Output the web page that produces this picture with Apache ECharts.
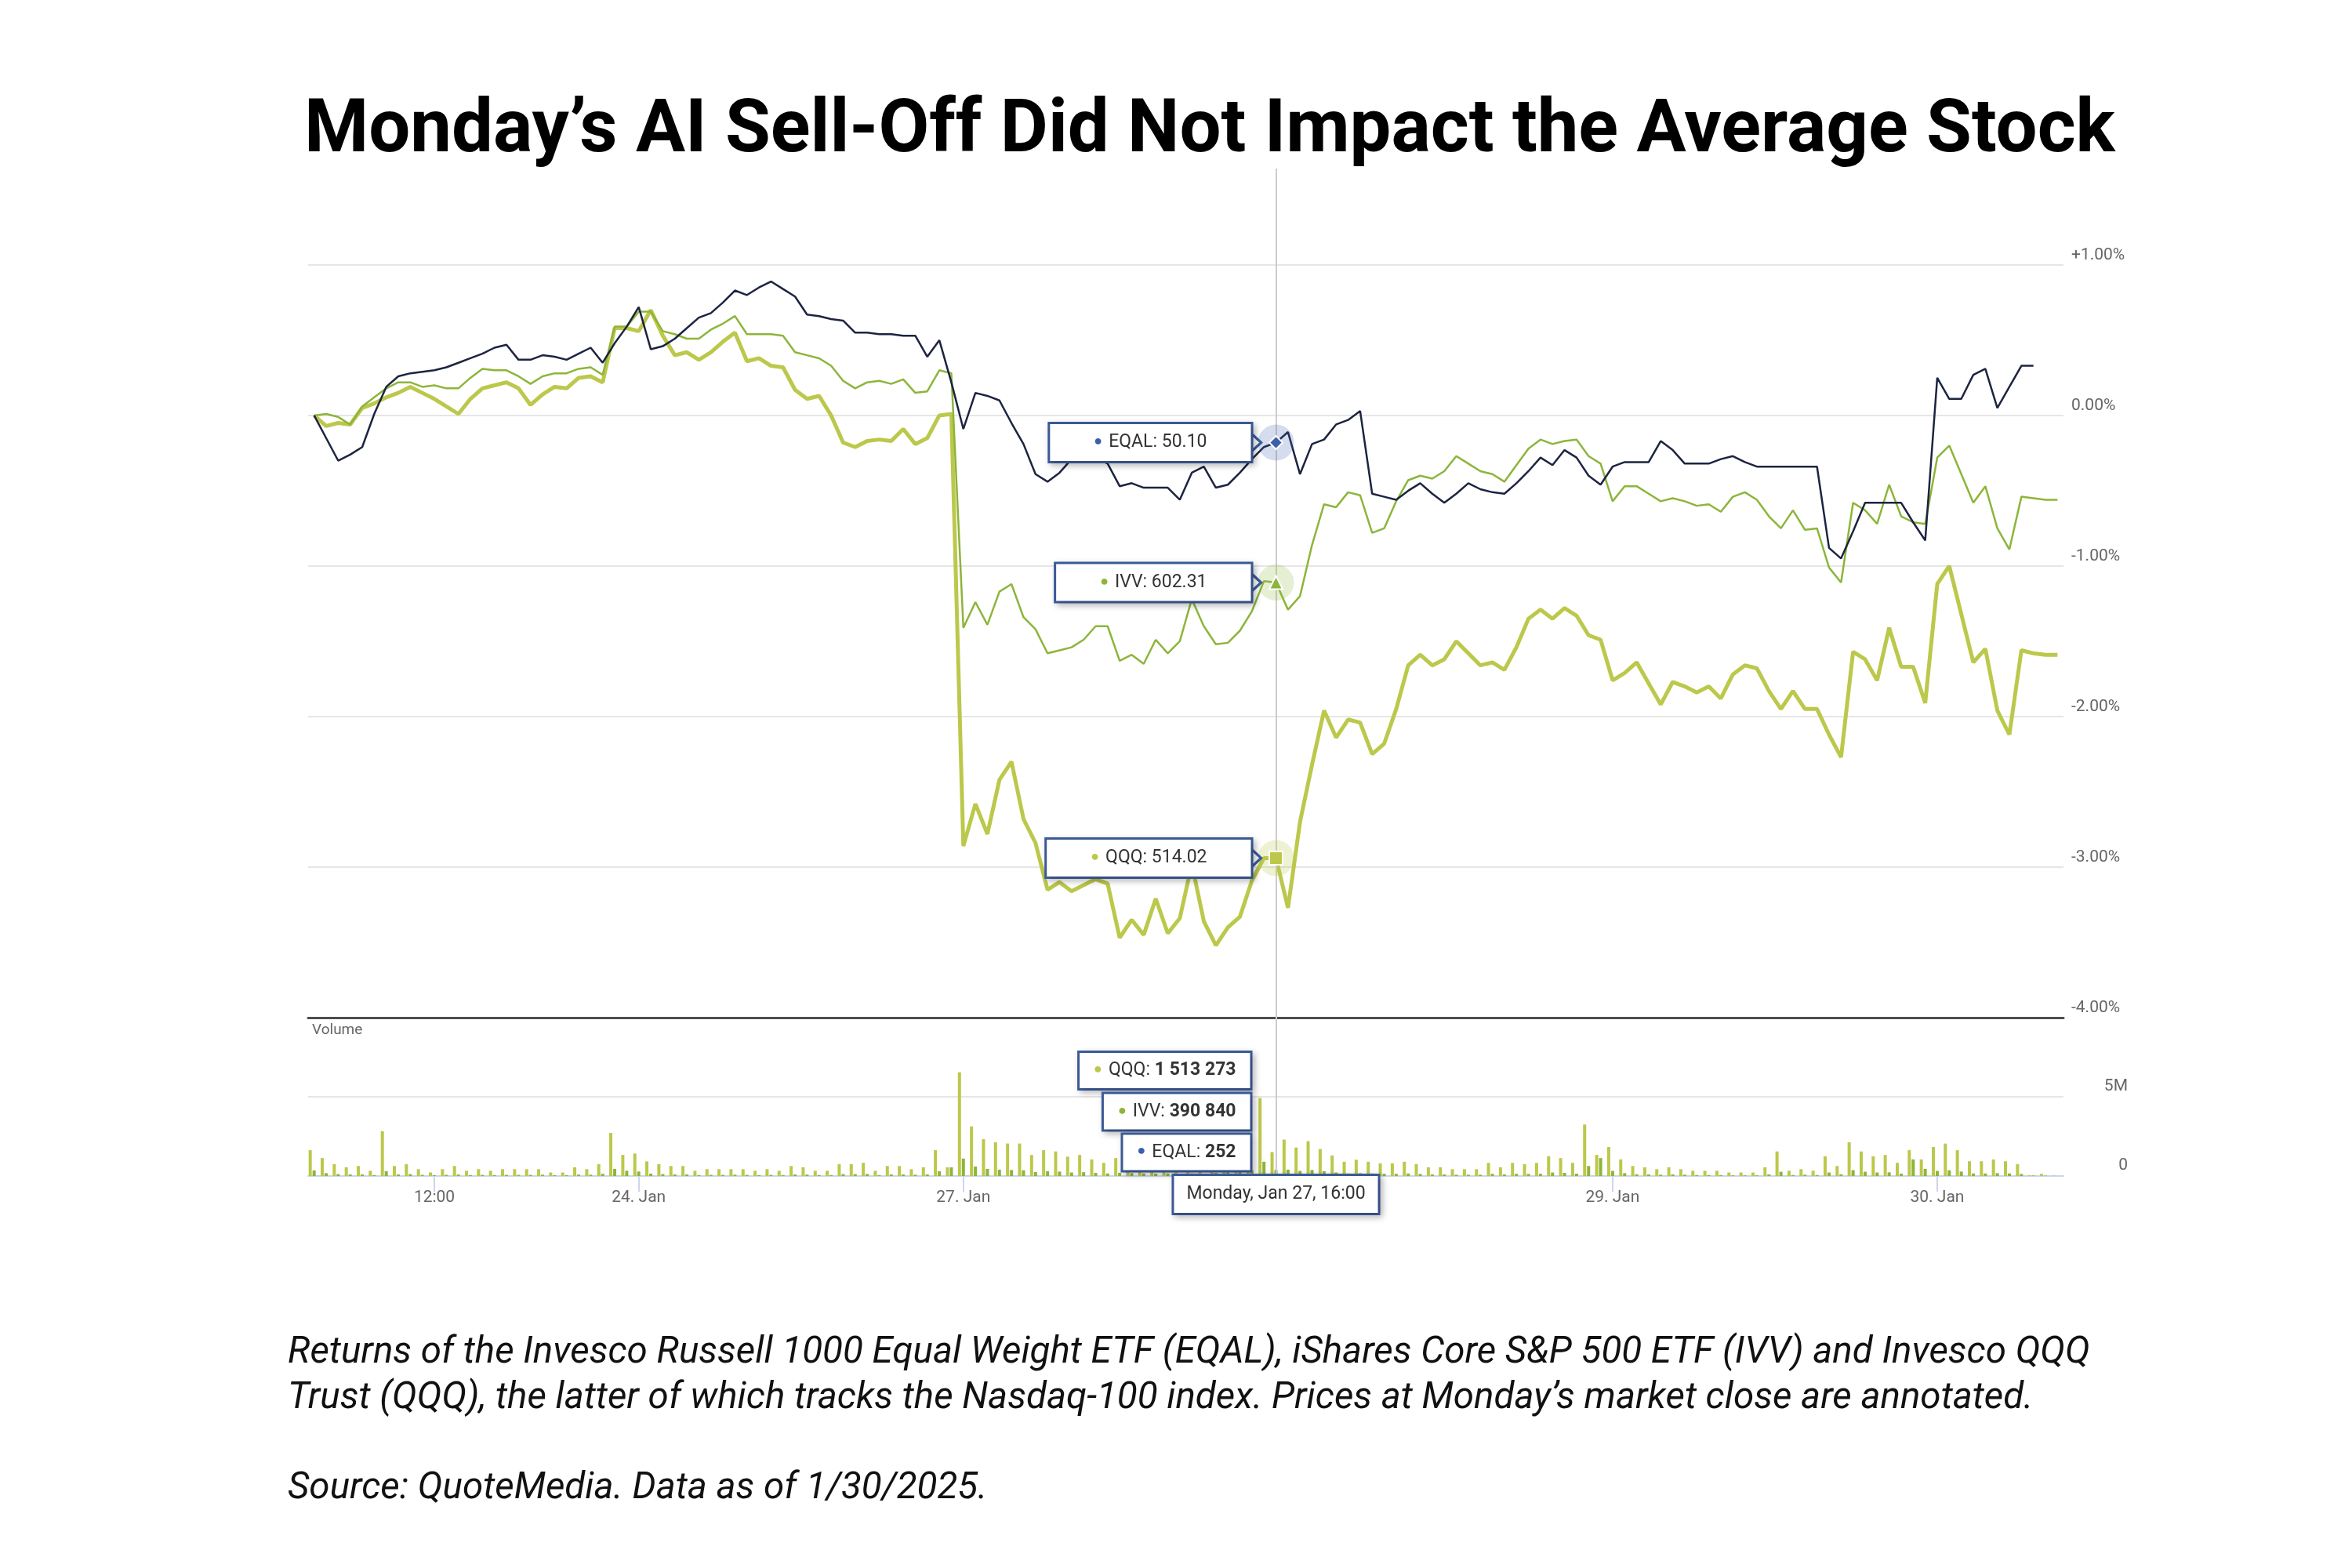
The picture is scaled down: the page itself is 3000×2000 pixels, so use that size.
<!DOCTYPE html>
<html>
<head>
<meta charset="utf-8">
<title>Monday's AI Sell-Off</title>
<script src="https://cdn.jsdelivr.net/npm/echarts@6/dist/echarts.min.js"></script>
<style>
  html, body { margin: 0; padding: 0; background: #fff; }
  #chart { width: 3000px; height: 2000px; }
</style>
</head>
<body>
<div id="chart"></div>
<script>
// trading days and 15-minute slots (ordinal time axis, no gaps)
const days = ["Jan 23", "Jan 24", "Jan 27", "Jan 28", "Jan 29", "Jan 30"];
const slots = ["09:30", "09:45", "10:00", "10:15", "10:30", "10:45", "11:00", "11:15", "11:30",
    "11:45", "12:00", "12:15", "12:30", "12:45", "13:00", "13:15", "13:30", "13:45",
    "14:00", "14:15", "14:30", "14:45", "15:00", "15:15", "15:30", "15:45", "16:00"];

// x axis tick labels
const tickSlots = ["Jan 23 12:00", "Jan 24 09:30", "Jan 27 09:30", "Jan 29 09:30", "Jan 30 09:30"];
const tickTexts = ["12:00", "24. Jan", "27. Jan", "29. Jan", "30. Jan"];

// returns in %, one row per trading day
const eqal = [
    0, -0.15, -0.30, -0.26, -0.21, 0.01, 0.19, 0.26, 0.28, 0.29, 0.30, 0.32, 0.35, 0.38, 0.41, 0.45, 0.47, 0.37, 0.37, 0.40, 0.39, 0.37, 0.41, 0.45, 0.35, 0.48, 0.59,
    0.72, 0.44, 0.46, 0.51, 0.58, 0.65, 0.68, 0.75, 0.83, 0.80, 0.85, 0.89, 0.84, 0.79, 0.67, 0.66, 0.64, 0.63, 0.55, 0.55, 0.54, 0.54, 0.53, 0.53, 0.39, 0.50, 0.22,
    -0.09, 0.15, 0.13, 0.10, -0.05, -0.19, -0.39, -0.44, -0.38, -0.29, -0.26, -0.28, -0.32, -0.47, -0.45, -0.48, -0.48, -0.48, -0.56, -0.38, -0.34, -0.48, -0.46, -0.38, -0.29, -0.21, -0.18,
    -0.11, -0.39, -0.19, -0.16, -0.06, -0.03, 0.03, -0.52, -0.54, -0.56, -0.50, -0.45, -0.52, -0.58, -0.52, -0.45, -0.49, -0.51, -0.52, -0.45, -0.37, -0.28, -0.33, -0.23, -0.28, -0.40, -0.46,
    -0.34, -0.31, -0.31, -0.31, -0.17, -0.23, -0.32, -0.32, -0.32, -0.29, -0.27, -0.31, -0.34, -0.34, -0.34, -0.34, -0.34, -0.34, -0.88, -0.95, -0.77, -0.58, -0.58, -0.58, -0.58, -0.71, -0.83,
    0.25, 0.11, 0.11, 0.27, 0.31, 0.05, 0.19, 0.33, 0.33, null, null
];
const ivv = [
    0, 0.01, -0.01, -0.06, 0.06, 0.12, 0.18, 0.22, 0.22, 0.19, 0.20, 0.18, 0.18, 0.25, 0.31, 0.30, 0.30, 0.26, 0.21, 0.26, 0.28, 0.28, 0.31, 0.32, 0.27, 0.59, 0.59,
    0.69, 0.69, 0.56, 0.54, 0.51, 0.51, 0.57, 0.61, 0.66, 0.54, 0.54, 0.54, 0.53, 0.42, 0.40, 0.38, 0.33, 0.23, 0.18, 0.22, 0.23, 0.21, 0.24, 0.15, 0.16, 0.30, 0.28,
    -1.41, -1.24, -1.39, -1.17, -1.12, -1.34, -1.42, -1.58, -1.56, -1.54, -1.49, -1.40, -1.40, -1.63, -1.59, -1.65, -1.49, -1.58, -1.50, -1.22, -1.40, -1.52, -1.51, -1.43, -1.30, -1.10, -1.11,
    -1.29, -1.20, -0.86, -0.59, -0.61, -0.51, -0.53, -0.78, -0.75, -0.57, -0.43, -0.40, -0.42, -0.37, -0.27, -0.32, -0.37, -0.39, -0.44, -0.33, -0.22, -0.16, -0.19, -0.17, -0.16, -0.27, -0.32,
    -0.57, -0.47, -0.47, -0.52, -0.57, -0.55, -0.57, -0.60, -0.59, -0.64, -0.54, -0.51, -0.56, -0.67, -0.75, -0.63, -0.76, -0.75, -1.01, -1.11, -0.58, -0.63, -0.72, -0.46, -0.67, -0.71, -0.72,
    -0.28, -0.20, -0.39, -0.58, -0.47, -0.75, -0.89, -0.54, -0.55, -0.56, -0.56
];
const qqq = [
    0, -0.07, -0.05, -0.06, 0.05, 0.08, 0.12, 0.15, 0.19, 0.15, 0.11, 0.06, 0.01, 0.11, 0.18, 0.20, 0.22, 0.18, 0.07, 0.14, 0.19, 0.18, 0.25, 0.26, 0.22, 0.58, 0.58,
    0.56, 0.70, 0.53, 0.40, 0.42, 0.37, 0.42, 0.49, 0.55, 0.36, 0.38, 0.33, 0.32, 0.17, 0.11, 0.13, 0.00, -0.18, -0.21, -0.17, -0.16, -0.17, -0.09, -0.19, -0.15, 0.00, 0.01,
    -2.86, -2.58, -2.78, -2.42, -2.30, -2.68, -2.84, -3.15, -3.10, -3.16, -3.12, -3.08, -3.11, -3.47, -3.35, -3.45, -3.21, -3.44, -3.34, -2.98, -3.36, -3.52, -3.40, -3.33, -3.09, -2.94, -2.94,
    -3.27, -2.70, -2.32, -1.96, -2.14, -2.02, -2.04, -2.25, -2.18, -1.95, -1.66, -1.59, -1.66, -1.62, -1.50, -1.58, -1.66, -1.64, -1.69, -1.54, -1.35, -1.29, -1.35, -1.28, -1.33, -1.46, -1.49,
    -1.76, -1.71, -1.64, -1.78, -1.92, -1.77, -1.80, -1.84, -1.80, -1.88, -1.72, -1.66, -1.68, -1.83, -1.95, -1.83, -1.95, -1.95, -2.12, -2.27, -1.57, -1.62, -1.76, -1.41, -1.67, -1.67, -1.91,
    -1.12, -1.00, -1.32, -1.64, -1.55, -1.96, -2.12, -1.56, -1.58, -1.59, -1.59
];

// volume in millions of shares
const volQqq = [
    1.63, 1.13, 0.75, 0.55, 0.63, 0.33, 2.83, 0.63, 0.75, 0.43, 0.22, 0.43, 0.63, 0.33, 0.43, 0.33, 0.43, 0.43, 0.43, 0.43, 0.22, 0.22, 0.55, 0.43, 0.75, 2.72, 1.33,
    1.42, 0.92, 0.75, 0.63, 0.63, 0.33, 0.43, 0.43, 0.43, 0.43, 0.33, 0.43, 0.33, 0.63, 0.55, 0.33, 0.33, 0.75, 0.75, 0.83, 0.33, 0.63, 0.63, 0.43, 0.55, 1.63, 0.55,
    6.55, 3.13, 2.33, 2.13, 2.05, 2.05, 1.33, 1.63, 1.55, 1.22, 1.33, 1.05, 0.83, 1.13, 1.00, 0.90, 0.85, 0.90, 0.80, 0.90, 0.80, 1.10, 1.30, 1.60, 2.05, 4.92, 1.513273,
    2.30, 1.80, 2.20, 1.70, 1.30, 0.90, 1.03, 0.90, 0.80, 0.80, 0.90, 0.75, 0.55, 0.55, 0.43, 0.43, 0.43, 0.83, 0.55, 0.83, 0.75, 0.83, 1.25, 1.13, 0.83, 3.25, 1.33,
    1.83, 1.05, 0.63, 0.55, 0.43, 0.55, 0.43, 0.33, 0.33, 0.33, 0.22, 0.22, 0.22, 0.55, 1.55, 0.33, 0.43, 0.33, 1.25, 0.63, 2.13, 1.55, 1.25, 1.33, 0.83, 1.63, 1.05,
    1.83, 2.05, 1.63, 0.93, 0.93, 1.05, 0.93, 0.75, 0.04, 0.13, 0.02
];
const volIvv = [
    0.35, 0.18, 0.12, 0.10, 0.10, 0.06, 0.30, 0.10, 0.12, 0.07, 0.05, 0.07, 0.09, 0.06, 0.07, 0.06, 0.07, 0.07, 0.07, 0.08, 0.05, 0.05, 0.09, 0.08, 0.14, 0.45, 0.33,
    0.28, 0.15, 0.12, 0.10, 0.10, 0.06, 0.07, 0.07, 0.08, 0.07, 0.06, 0.07, 0.06, 0.10, 0.09, 0.06, 0.06, 0.12, 0.12, 0.13, 0.06, 0.10, 0.10, 0.08, 0.10, 0.30, 0.55,
    1.10, 0.60, 0.45, 0.40, 0.38, 0.36, 0.25, 0.30, 0.28, 0.22, 0.24, 0.20, 0.16, 0.20, 0.18, 0.16, 0.15, 0.16, 0.15, 0.16, 0.15, 0.20, 0.24, 0.28, 0.36, 0.90, 0.39084,
    0.40, 0.32, 0.38, 0.30, 0.22, 0.16, 0.18, 0.16, 0.14, 0.14, 0.16, 0.13, 0.10, 0.10, 0.08, 0.08, 0.08, 0.14, 0.10, 0.14, 0.13, 0.14, 0.22, 0.20, 0.15, 0.63, 1.13,
    0.32, 0.18, 0.11, 0.10, 0.08, 0.10, 0.08, 0.06, 0.06, 0.06, 0.04, 0.04, 0.04, 0.10, 0.27, 0.06, 0.08, 0.06, 0.22, 0.11, 0.37, 0.27, 0.22, 0.23, 0.15, 1.05, 0.45,
    0.32, 0.36, 0.28, 0.16, 0.16, 0.18, 0.16, 0.13, 0.03, 0.02, 0.00
];
const volEqal = [
    0.0031, 0.0008, 0.0005, 0.0004, 0.0006, 0.0002, 0.0012, 0.0003, 0.0005, 0.0002, 0.0001, 0.0003, 0.0004, 0.0002, 0.0002, 0.0001, 0.0003, 0.0002, 0.0002, 0.0003, 0.0001, 0.0001, 0.0004, 0.0002, 0.0006, 0.0021, 0.0009,
    0.0018, 0.0006, 0.0004, 0.0003, 0.0003, 0.0001, 0.0002, 0.0002, 0.0003, 0.0002, 0.0001, 0.0002, 0.0001, 0.0004, 0.0003, 0.0001, 0.0001, 0.0005, 0.0004, 0.0005, 0.0001, 0.0003, 0.0003, 0.0002, 0.0003, 0.0014, 0.0011,
    0.0042, 0.0015, 0.0011, 0.0009, 0.0008, 0.0007, 0.0004, 0.0006, 0.0005, 0.0003, 0.0004, 0.0003, 0.0002, 0.0003, 0.0003, 0.0002, 0.0002, 0.0002, 0.0002, 0.0002, 0.0002, 0.0003, 0.0004, 0.0005, 0.0007, 0.0026, 0.000252,
    0.0009, 0.0006, 0.0008, 0.0006, 0.0004, 0.0002, 0.0003, 0.0002, 0.0002, 0.0002, 0.0002, 0.0002, 0.0001, 0.0001, 0.0001, 0.0001, 0.0001, 0.0002, 0.0001, 0.0002, 0.0002, 0.0002, 0.0004, 0.0003, 0.0002, 0.0019, 0.0010,
    0.0007, 0.0003, 0.0002, 0.0002, 0.0001, 0.0002, 0.0001, 0.0001, 0.0001, 0.0001, 0.0001, 0.0001, 0.0001, 0.0002, 0.0005, 0.0001, 0.0001, 0.0001, 0.0004, 0.0002, 0.0007, 0.0005, 0.0004, 0.0004, 0.0002, 0.0016, 0.0008,
    0.0011, 0.0009, 0.0006, 0.0003, 0.0003, 0.0004, 0.0003, 0.0002, 0.0001, null, null
];

// Monday close annotation
const closeSlot = "Jan 27 16:00";
const closeLabel = "Monday, Jan 27, 16:00";
const tipNames = ["EQAL", "IVV", "QQQ"];
const tipPrices = ["50.10", "602.31", "514.02"];

const colors = {
    eqalLine: "#1c2440",
    eqal: "#3a5fab",
    ivv: "#8db53a",
    qqq: "#bcc84b"
};

document.addEventListener("DOMContentLoaded", () => {
    const chart = echarts.init(document.getElementById("chart"), null, { renderer: "canvas" });

    // category list: every 15 minutes of each trading day, cut to the data length
    const categories = [];
    days.forEach(d => slots.forEach(s => categories.push(d + " " + s)));
    categories.length = qqq.length;
    const closeIdx = categories.indexOf(closeSlot);

    const fmtVol = v => String(Math.round(v * 1e6)).replace(/\B(?=(\d{3})+(?!\d))/g, " ");

    // shared look of the annotation boxes
    const boxStyle = {
        show: true,
        backgroundColor: "#ffffff",
        borderColor: "#3d5c9c",
        borderWidth: 3,
        color: "#333333",
        fontFamily: "Roboto",
        fontSize: 23,
        shadowColor: "rgba(0, 0, 0, 0.22)",
        shadowBlur: 8,
        shadowOffsetX: 3,
        shadowOffsetY: 3
    };
    const dot = c => ({ color: c, fontSize: 18, padding: [0, 8, 2, 0] });

    const priceTip = (name, value, color, symbol, halo) => ([
        {
            coord: [closeSlot, value],
            symbol: "circle",
            symbolSize: 46,
            itemStyle: { color: halo },
            label: Object.assign({}, boxStyle, {
                position: "left",
                distance: 9,
                padding: [12, 56, 12, 56],
                formatter: "{d|●}" + name + ": " + tipPrices[tipNames.indexOf(name)],
                rich: { d: dot(color) }
            })
        },
        {
            // little pointer on the right side of the box
            coord: [closeSlot, value],
            symbol: "path://M0,0L1,0.5L0,1Z",
            symbolSize: [14, 26],
            symbolOffset: [-26, 0],
            itemStyle: { color: "#ffffff", borderColor: "#3d5c9c", borderWidth: 3 },
            label: { show: false }
        },
        {
            coord: [closeSlot, value],
            symbol: symbol,
            symbolSize: 17,
            itemStyle: { color: color, borderColor: "#ffffff", borderWidth: 2 },
            label: { show: false }
        }
    ]);

    const volTip = (name, value, color, dy) => ({
        coord: [closeSlot, value],
        symbolSize: 0,
        label: Object.assign({}, boxStyle, {
            position: "left",
            distance: 33,
            offset: [0, dy],
            padding: [11, 18, 11, 18],
            formatter: "{d|●}" + name + ": {b|" + fmtVol(value) + "}",
            rich: {
                d: dot(color),
                b: { fontWeight: "bold", fontSize: 23, color: "#333333", fontFamily: "Roboto" }
            }
        })
    });

    const crosshair = {
        silent: true,
        symbol: ["none", "none"],
        label: { show: false },
        lineStyle: { color: "#cccccc", width: 2, type: "solid" },
        data: [{ xAxis: closeSlot }]
    };

    const option = {
        animation: false,
        backgroundColor: "#ffffff",
        textStyle: { fontFamily: "Roboto" },

        title: [
            {
                text: "Monday’s AI Sell-Off Did Not Impact the Average Stock",
                left: 383,
                top: 117,
                textStyle: { fontFamily: "Roboto", fontWeight: "bold", fontSize: 94, color: "#000000" }
            },
            {
                text: "Returns of the Invesco Russell 1000 Equal Weight ETF (EQAL), iShares Core S&P 500 ETF (IVV) and Invesco QQQ\n" +
                    "Trust (QQQ), the latter of which tracks the Nasdaq-100 index. Prices at Monday’s market close are annotated.\n\n" +
                    "Source: QuoteMedia. Data as of 1/30/2025.",
                left: 362,
                top: 1692,
                textStyle: {
                    fontFamily: "Roboto", fontStyle: "italic", fontWeight: "normal",
                    fontSize: 47.5, lineHeight: 57.8, color: "#111111"
                }
            },
            {
                text: "Volume",
                left: 393,
                top: 1300,
                textStyle: { fontFamily: "Roboto", fontWeight: "normal", fontSize: 19, color: "#666666" }
            }
        ],

        grid: [
            { left: 393, right: 368, top: 215, bottom: 702 },
            { left: 393, right: 368, top: 1298, bottom: 500 }
        ],

        xAxis: [
            {
                type: "category",
                gridIndex: 0,
                data: categories,
                boundaryGap: true,
                axisLine: { show: true, onZero: false, lineStyle: { color: "#4d4d4d", width: 3 } },
                axisTick: { show: false },
                axisLabel: { show: false },
                splitLine: { show: false }
            },
            {
                type: "category",
                gridIndex: 1,
                data: categories,
                boundaryGap: true,
                axisLine: { show: true, onZero: false, lineStyle: { color: "#ccd6eb", width: 2 } },
                axisTick: {
                    show: true,
                    alignWithLabel: true,
                    interval: (i, v) => tickSlots.includes(v),
                    length: 20,
                    lineStyle: { color: "#ccd6eb", width: 2 }
                },
                axisLabel: {
                    interval: (i, v) => tickSlots.includes(v),
                    formatter: v => tickTexts[tickSlots.indexOf(v)] || "",
                    color: "#666666",
                    fontSize: 21,
                    margin: 17
                },
                splitLine: { show: false }
            }
        ],

        yAxis: [
            {
                type: "value",
                gridIndex: 0,
                position: "right",
                min: -4,
                max: 1.64,
                interval: 1,
                axisLine: { show: false },
                axisTick: { show: false },
                axisLabel: {
                    showMaxLabel: false,
                    color: "#666666",
                    fontSize: 21,
                    margin: 10,
                    verticalAlign: "bottom",
                    padding: [0, 0, 2, 0],
                    formatter: v => (Number.isInteger(v) ? (v > 0 ? "+" : "") + v.toFixed(2) + "%" : "")
                },
                splitLine: { show: true, showMaxLine: false, lineStyle: { color: "#e6e6e6", width: 2 } }
            },
            {
                type: "value",
                gridIndex: 1,
                position: "right",
                min: 0,
                max: 10,
                interval: 5,
                axisLine: { show: false },
                axisTick: { show: false },
                axisLabel: {
                    showMaxLabel: false,
                    color: "#666666",
                    fontSize: 21,
                    margin: 82,
                    align: "right",
                    verticalAlign: "bottom",
                    padding: [0, 0, 3, 0],
                    formatter: v => (v === 0 ? "0" : v === 5 ? "5M" : "")
                },
                splitLine: { show: true, showMaxLine: false, lineStyle: { color: "#e6e6e6", width: 2 } }
            }
        ],

        series: [
            // crosshair at Monday's close, drawn under everything
            { type: "line", xAxisIndex: 0, yAxisIndex: 0, data: [], z: 1, markLine: crosshair },
            { type: "line", xAxisIndex: 1, yAxisIndex: 1, data: [], z: 1, markLine: crosshair },

            // 1. Returns
            {
                name: "QQQ", type: "line", xAxisIndex: 0, yAxisIndex: 0, data: qqq,
                symbol: "none", z: 3,
                lineStyle: { color: colors.qqq, width: 5 }
            },
            {
                name: "IVV", type: "line", xAxisIndex: 0, yAxisIndex: 0, data: ivv,
                symbol: "none", z: 3,
                lineStyle: { color: colors.ivv, width: 2.5 }
            },
            {
                name: "EQAL", type: "line", xAxisIndex: 0, yAxisIndex: 0, data: eqal,
                symbol: "none", z: 3,
                lineStyle: { color: colors.eqalLine, width: 2.5 }
            },

            // 2. Volume
            {
                name: "QQQ volume", type: "bar", xAxisIndex: 1, yAxisIndex: 1, data: volQqq,
                barWidth: 4, barGap: "25%", itemStyle: { color: colors.qqq }
            },
            {
                name: "IVV volume", type: "bar", xAxisIndex: 1, yAxisIndex: 1, data: volIvv,
                barWidth: 4, barGap: "25%", itemStyle: { color: colors.ivv }
            },
            {
                name: "EQAL volume", type: "bar", xAxisIndex: 1, yAxisIndex: 1, data: volEqal,
                barWidth: 4, barGap: "25%", itemStyle: { color: colors.eqal }
            },

            // 3. Close annotations, on top
            {
                type: "line", xAxisIndex: 0, yAxisIndex: 0, data: [], z: 10,
                markPoint: {
                    silent: true,
                    label: { show: false },
                    data: [].concat(
                        priceTip("EQAL", eqal[closeIdx], colors.eqal, "diamond", "rgba(58, 95, 171, 0.22)"),
                        priceTip("IVV", ivv[closeIdx], colors.ivv, "triangle", "rgba(141, 181, 58, 0.22)"),
                        priceTip("QQQ", qqq[closeIdx], colors.qqq, "rect", "rgba(188, 200, 75, 0.25)")
                    )
                }
            },
            {
                type: "line", xAxisIndex: 1, yAxisIndex: 1, data: [], z: 10,
                markPoint: {
                    silent: true,
                    label: { show: false },
                    data: [
                        volTip("QQQ", volQqq[closeIdx], colors.qqq, -104),
                        volTip("IVV", volIvv[closeIdx], colors.ivv, -74),
                        volTip("EQAL", volEqal[closeIdx], colors.eqal, -30),
                        {
                            coord: [closeSlot, 0],
                            symbolSize: 0,
                            label: Object.assign({}, boxStyle, {
                                position: "bottom",
                                distance: 0,
                                padding: [12, 16, 12, 16],
                                formatter: closeLabel
                            })
                        }
                    ]
                }
            }
        ]
    };

    chart.setOption(option);
    window.addEventListener("resize", () => chart.resize());
});
</script>
</body>
</html>
